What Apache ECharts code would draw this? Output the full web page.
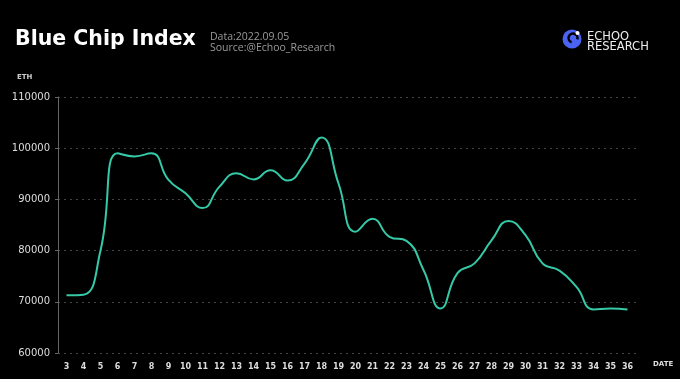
<!DOCTYPE html>
<html><head><meta charset="utf-8">
<script src="https://cdn.jsdelivr.net/npm/echarts@6/dist/echarts.min.js"></script>
<style>html,body{margin:0;padding:0;background:#000;}#c{width:680px;height:379px;}</style>
</head><body><div id="c"></div>
<script>
const categories = ['3','4','5','6','7','8','9','10','11','12','13','14','15','16','17','18','19','20','21','22','23','24','25','26','27','28','29','30','31','32','33','34','35','36'];
const indexValues = [71300,71400,80000,99000,98400,99000,93800,91200,88300,92500,95100,93900,95700,93700,97000,102100,93100,83700,86200,82700,81900,76200,68700,75600,77500,82000,85800,83000,77500,76100,72900,68500,68700,68500];
const yTicks = {min:60000, max:110000, interval:10000};

const chart = echarts.init(document.getElementById('c'));
chart.setOption({
  backgroundColor:'#000',
  animation:false,
  grid:{left:58, right:44, top:97, bottom:26, containLabel:false},
  title:[
    {text:'Blue Chip Index', left:10, top:24, textStyle:{color:'#fff', fontFamily:'DejaVu Sans', fontWeight:'bold', fontSize:20.5}},
    {text:'Data:2022.09.05\nSource:@Echoo_Research', left:205, top:27, textStyle:{color:'#9a9a9a', fontFamily:'Open Sans', fontWeight:'normal', fontSize:10.5, lineHeight:11}}
  ],
  graphic:[
    {type:'circle', shape:{cx:572, cy:39, r:9.5}, style:{fill:'#4b63f2'}},
    {type:'arc', shape:{cx:573, cy:38, r:4.5, startAngle:Math.PI*0.6, endAngle:Math.PI*2.1}, style:{stroke:'#000', lineWidth:2.5, fill:null}},
    {type:'circle', shape:{cx:577.5, cy:33, r:2}, style:{fill:'#fff'}},
    {type:'text', left:587, top:31, style:{text:'ECHOO', fill:'#eee', font:'11.5px "DejaVu Sans"'}},
    {type:'text', left:587, top:41, style:{text:'RESEARCH', fill:'#eee', font:'11.5px "DejaVu Sans"'}},
    {type:'text', left:17, top:74, style:{text:'ETH', fill:'#ccc', font:'bold 7px "DejaVu Sans"'}},
    {type:'text', left:653, top:361, style:{text:'DATE', fill:'#ddd', font:'bold 7px "DejaVu Sans"'}}
  ],
  xAxis:{
    type:'category', data:categories, boundaryGap:true,
    axisLine:{show:false}, axisTick:{show:false},
    axisLabel:{color:'#ddd', fontSize:8, fontWeight:'bold', fontFamily:'DejaVu Sans', margin:10, interval:0}
  },
  yAxis:{
    type:'value', min:yTicks.min, max:yTicks.max, interval:yTicks.interval,
    axisLine:{show:true, lineStyle:{color:'#666', width:1}},
    axisTick:{show:true, length:3, lineStyle:{color:'#666'}},
    axisLabel:{color:'#ddd', fontSize:10, fontFamily:'DejaVu Sans', margin:8, formatter:function(v){return String(v);}},
    splitLine:{show:true, lineStyle:{color:'#444', type:[2,4], width:1}}
  },
  series:[{
    type:'line', data:indexValues, smooth:0.5, symbol:'none',
    lineStyle:{color:'#36c9a7', width:2}
  }]
});
</script></body></html>
